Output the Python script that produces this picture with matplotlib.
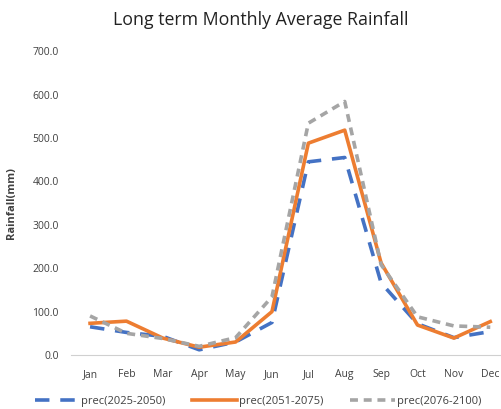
import matplotlib
matplotlib.use("Agg")
import matplotlib.pyplot as plt

meses = ["Jan", "Feb", "Mar", "Apr", "May", "Jun", "Jul", "Aug", "Sep", "Oct", "Nov", "Dec"]
prec_2025_2050 = [65, 52, 43, 12, 30, 75, 445, 455, 166, 72, 40, 54]
prec_2051_2075 = [73, 78, 39, 18, 30, 100, 488, 518, 212, 69, 39, 77]
prec_2076_2100 = [90, 50, 38, 20, 40, 134, 534, 584, 208, 88, 67, 64]

plt.rcParams["font.family"] = ["Open Sans", "DejaVu Sans"]

fig = plt.figure(figsize=(5.01, 4.09), dpi=100)
ax = fig.add_axes([0.142, 0.132, 0.862, 0.743])

x = range(len(meses))
ax.plot(x, prec_2025_2050, color="#4472C4", lw=2.6, dashes=(4, 3), label="prec(2025-2050)")
ax.plot(x, prec_2051_2075, color="#ED7D31", lw=2.6, label="prec(2051-2075)")
ax.plot(x, prec_2076_2100, color="#A5A5A5", lw=2.6, dashes=(2.2, 1.6), label="prec(2076-2100)")

ax.set_xlim(-0.52, 11.35)
ax.set_ylim(0, 700)
ax.set_yticks(range(0, 701, 100))
ax.set_yticklabels([f"{v:.1f}" for v in range(0, 701, 100)])
ax.set_xticks(list(x))
ax.set_xticklabels(meses)
ax.tick_params(length=0, labelsize=7.5, colors="#404040", pad=9)
ax.tick_params(axis="x", pad=10)

for s in ["top", "right", "left"]:
    ax.spines[s].set_visible(False)
ax.spines["bottom"].set_color("#D0D0D0")

ax.set_ylabel("Rainfall(mm)", fontsize=8, fontweight="bold", color="#404040", labelpad=11)
fig.text(0.52, 0.95, "Long term Monthly Average Rainfall", ha="center", va="center",
         fontsize=12.8, color="#222222")

fig.legend(loc="center", bbox_to_anchor=(0.515, 0.018), ncol=3, frameon=False,
           fontsize=8, handlelength=4.0, handletextpad=0.2, columnspacing=2.4,
           labelcolor="#404040")

fig.savefig("out.png", dpi=100)
